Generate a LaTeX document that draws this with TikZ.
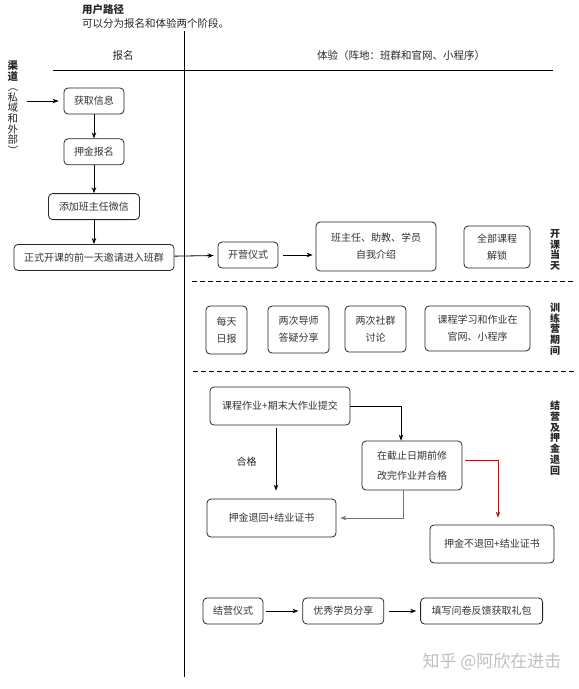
\documentclass[tikz,border=0pt]{standalone}
\usepackage{fontspec}
\setmainfont{Noto Sans CJK SC}
\usepackage{tikz}
\usetikzlibrary{arrows.meta, positioning}
\definecolor{failred}{HTML}{A31B1B}
\newcommand{\vparen}[1]{\rotatebox[origin=c]{-90}{#1}}

\begin{document}
\begin{tikzpicture}[
    x=1pt, y=1pt,
    font=\fontsize{10}{17}\selectfont,
    >={Stealth[length=6pt, width=4.5pt]},
    box/.style={draw=black!85, rounded corners=4pt, line width=0.8pt, align=center, inner sep=0pt, text=black!80, minimum width=#1, minimum height=26pt},
    box/.default=60pt,
    lab/.style={align=center, inner sep=0pt, text=black!85},
    side/.style={lab, font=\bfseries\fontsize{10}{10.8}\selectfont},
    head/.style={lab, font=\fontsize{10.5}{12}\selectfont},
    flow/.style={->, line width=0.8pt, draw=black},
    sep/.style={line width=0.8pt, dash pattern=on 5pt off 3pt},
  ]
  \useasboundingbox (0,0) rectangle (579,-689);
  % ---- headings and frame
  \node[head, anchor=west, font=\bfseries\fontsize{10.5}{12}\selectfont] (title) at (82,-10) {用户路径};
  \node[head, anchor=west] (sub) at (82,-24) {可以分为报名和体验两个阶段。};
  \node[head] (hsign) at (123,-56) {报名};
  \node[head, anchor=west] (hexp) at (317,-56) {体验（阵地：班群和官网、小程序）};
  \draw[line width=0.8pt] (184,-31) -- (184,-677);
  \draw[line width=0.8pt] (53,-70) -- (553,-70);
  \draw[sep] (192,-281) -- (575,-281);
  \draw[sep] (193,-371) -- (575,-371);
  % ---- side labels
  \node[lab, font=\fontsize{10.5}{10.6}\selectfont] (chan) at (13,-108) {\textbf{渠}\\\textbf{道}\\\vparen{（}\\私\\域\\和\\外\\部\\\vparen{）}};
  \node[side] (day1) at (555,-250) {开\\课\\当\\天};
  \node[side] (camp) at (555,-329) {训\\练\\营\\期\\间};
  \node[side] (endc) at (555,-438) {结\\营\\及\\押\\金\\退\\回};
  % ---- sign-up column
  \coordinate (src) at (27,-101);
  \node[box] (info) at (94,-101) {获取信息};
  \node[box, below=24pt of info] (pay) {押金报名};
  \node[box=91pt, below=28pt of pay] (wx) {添加班主任微信};
  \node[box=160pt, below=24pt of wx] (inv) {正式开课的前一天邀请进入班群};
  % ---- first day
  \node[box] (open) at (248,-255) {开营仪式};
  \node[box=120pt, minimum height=49pt] (intro) at (376,-246.5) {班主任、助教、学员\\自我介绍};
  \node[box=66pt, minimum height=42pt] (unlock) at (497,-247) {全部课程\\解锁};
  % ---- during the camp
  \node[box=41pt, minimum height=48pt] (daily) at (226.5,-330) {每天\\日报};
  \node[box=61pt, minimum height=47pt] (tutor) at (298.5,-329.5) {两次导师\\答疑分享};
  \node[box=61pt, minimum height=46pt] (disc) at (375.5,-329) {两次社群\\讨论};
  \node[box=105pt, minimum height=45pt] (study) at (477.5,-328.5) {课程学习和作业在\\官网、小程序};
  % ---- closing and deposit
  \node[box=140pt, minimum height=38pt] (hw) at (280,-406) {课程作业+期末大作业提交};
  \node[box=100pt, minimum height=49pt, font=\fontsize{10}{20}\selectfont] (fix) at (412,-465.5) {在截止日期前修\\改完作业并合格};
  \node[box=129pt, minimum height=38pt] (ret) at (271.5,-518) {押金退回+结业证书};
  \node[box=124pt, minimum height=38pt] (noret) at (492,-544) {押金不退回+结业证书};
  \node[box] (close) at (233,-611) {结营仪式};
  \node[box=81pt, right=39pt of close] (share) {优秀学员分享};
  \node[box=122pt, right=36pt of share] (survey) {填写问卷反馈获取礼包};
  \node[lab, text=black!25, font=\fontsize{17}{18}\selectfont] (mark) at (492,-662) {知乎 @阿欣在进击};
  % ---- arrows
  \draw[flow, shorten >=5pt] (src) -- (info);
  \draw[flow] (info) -- (pay);
  \draw[flow] (pay.south) -- (pay.south |- wx.north);
  \draw[flow] (wx.south) -- (wx.south |- inv.north);
  \draw[flow, shorten >=4pt] (inv) -- (open);
  \draw[flow, shorten <=5pt, shorten >=3pt] (open) -- (open -| intro.west);
  \draw[flow] (hw.east) -| ([xshift=-11pt]fix.north);
  \draw[flow, shorten <=3pt, shorten >=8pt] ([xshift=-4pt]hw.south) -- ([xshift=-4pt]hw.south |- ret.north) node[midway, lab, left=19pt] {合格};
  \draw[flow, draw=black!55, shorten >=4pt] ([xshift=-9pt]fix.south) |- (ret.east);
  \draw[flow, draw=failred, shorten <=3pt, shorten >=7pt] ([yshift=5pt]fix.east) -| ([xshift=6pt]noret.north);
  \draw[flow, shorten <=3pt, shorten >=4pt] (close) -- (share);
  \draw[flow, shorten <=5pt, shorten >=4pt] (share) -- (survey);
\end{tikzpicture}
\end{document}
